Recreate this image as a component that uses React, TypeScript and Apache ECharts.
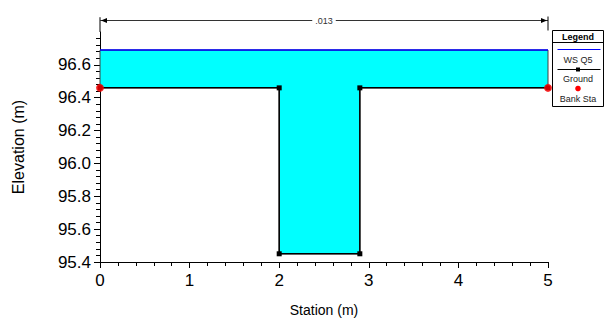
import React, { useEffect, useRef } from "react";
import * as echarts from "echarts";

const stations = [0, 2, 2, 2.9, 2.9, 5];
const groundElev = [96.46, 96.46, 95.45, 95.45, 96.46, 96.46];
const wsElev = 96.69;
const bankStations = [0, 5];
const bankElev = [96.46, 96.46];
const yTicks = [95.4, 95.6, 95.8, 96.0, 96.2, 96.4, 96.6];
const xTicks = [0, 1, 2, 3, 4, 5];
const nLabel = ".013";
const legendItems = ["WS Q5", "Ground", "Bank Sta"];

const FONT = "Liberation Sans, Arial, sans-serif";

export default function App() {
  const ref = useRef<HTMLDivElement>(null);
  useEffect(() => {
    if (!ref.current) return;
    const chart = echarts.init(ref.current, undefined, { renderer: "svg" });
    const groundData = stations.map((s, i) => [s, groundElev[i]]);
    const wsData = [
      [stations[0], wsElev],
      [stations[stations.length - 1], wsElev],
    ];
    chart.setOption({
      animation: false,
      backgroundColor: "#ffffff",
      textStyle: { fontFamily: FONT },
      grid: { left: 100, right: 56, top: 32, bottom: 64 },
      xAxis: {
        type: "value",
        min: 0,
        max: 5,
        interval: 1,
        name: "Station (m)",
        nameLocation: "middle",
        nameGap: 41,
        nameTextStyle: { fontSize: 14, color: "#000", fontFamily: FONT },
        axisLine: { lineStyle: { color: "#000", width: 1 } },
        axisTick: { length: 6, lineStyle: { color: "#000" }, customValues: xTicks },
        minorTick: { show: true, splitNumber: 5, length: 4, lineStyle: { color: "#000" } },
        axisLabel: { fontSize: 17, color: "#000", margin: 10, fontFamily: FONT, customValues: xTicks },
        splitLine: { show: false },
      },
      yAxis: {
        type: "value",
        min: 95.4,
        max: 96.8,
        interval: 0.2,
        name: "Elevation (m)",
        nameLocation: "middle",
        nameGap: 74,
        nameTextStyle: { fontSize: 16, color: "#000", fontFamily: FONT },
        axisLine: { show: true, lineStyle: { color: "#000", width: 1 } },
        axisTick: { show: true, length: 6, lineStyle: { color: "#000" }, customValues: yTicks },
        minorTick: { show: true, splitNumber: 5, length: 4, lineStyle: { color: "#000" } },
        axisLabel: {
          fontSize: 17,
          color: "#000",
          margin: 9,
          fontFamily: FONT,
          customValues: yTicks,
          formatter: (v: number) => v.toFixed(1),
        },
        splitLine: { show: false },
      },
      series: [
        {
          type: "custom",
          z: 1,
          data: [0],
          renderItem: (_params: any, api: any) => {
            const pts: number[][] = [];
            pts.push(api.coord([stations[0], wsElev]));
            pts.push(api.coord([stations[stations.length - 1], wsElev]));
            for (let i = stations.length - 1; i >= 0; i--) {
              pts.push(api.coord([stations[i], groundElev[i]]));
            }
            return {
              type: "polygon",
              shape: { points: pts },
              style: { fill: "#00ffff", stroke: "#404040", lineWidth: 1 },
            };
          },
        },
        {
          type: "line",
          name: "WS Q5",
          z: 3,
          data: wsData,
          symbol: "none",
          lineStyle: { color: "#0000ff", width: 1.5 },
        },
        {
          type: "line",
          name: "Ground",
          z: 4,
          data: groundData,
          symbol: "rect",
          symbolSize: 5,
          itemStyle: { color: "#000" },
          lineStyle: { color: "#000", width: 1.5 },
        },
        {
          type: "scatter",
          name: "Bank Sta",
          z: 5,
          data: bankStations.map((s, i) => [s, bankElev[i]]),
          symbol: "circle",
          symbolSize: 8,
          itemStyle: { color: "#ff0000" },
        },
      ],
    });

    const p0 = chart.convertToPixel({ gridIndex: 0 }, [stations[0], 96.87]) as number[];
    const p1 = chart.convertToPixel({ gridIndex: 0 }, [stations[stations.length - 1], 96.87]) as number[];
    const axTop = chart.convertToPixel({ gridIndex: 0 }, [0, 96.89]) as number[];
    const axEnd = chart.convertToPixel({ gridIndex: 0 }, [0, 96.8]) as number[];
    const ay = Math.round(p0[1]) + 0.5;
    const lx = 552.5, ly = 30.5, lw = 51, lh = 76;
    const cx = lx + lw / 2;
    chart.setOption({
      graphic: [
        {
          type: "line",
          shape: { x1: axEnd[0], y1: axEnd[1], x2: axTop[0], y2: axTop[1] },
          style: { stroke: "#000", lineWidth: 1 },
        },
        {
          type: "line",
          shape: { x1: p0[0], y1: ay, x2: p1[0], y2: ay },
          style: { stroke: "#333", lineWidth: 1 },
        },
        {
          type: "polygon",
          shape: { points: [[p0[0] + 1, ay], [p0[0] + 7, ay - 2.5], [p0[0] + 7, ay + 2.5]] },
          style: { fill: "#000" },
        },
        {
          type: "polygon",
          shape: { points: [[p1[0] - 1, ay], [p1[0] - 7, ay - 2.5], [p1[0] - 7, ay + 2.5]] },
          style: { fill: "#000" },
        },
        {
          type: "line",
          shape: { x1: p1[0], y1: ay - 4, x2: p1[0], y2: ay + 10 },
          style: { stroke: "#000", lineWidth: 1 },
        },
        {
          type: "text",
          x: (p0[0] + p1[0]) / 2,
          y: ay,
          style: {
            text: nLabel,
            fontSize: 9,
            fontFamily: FONT,
            fill: "#333",
            align: "center",
            verticalAlign: "middle",
            backgroundColor: "#fff",
            padding: [0, 3],
          },
        },
        {
          type: "rect",
          shape: { x: lx, y: ly, width: lw, height: lh },
          style: { fill: "#fff", stroke: "#000", lineWidth: 1 },
          z: 10,
        },
        {
          type: "text",
          x: cx,
          y: ly + 6.5,
          z: 11,
          style: { text: "Legend", fontSize: 9, fontWeight: "bold", fontFamily: FONT, fill: "#000", align: "center", verticalAlign: "middle" },
        },
        {
          type: "line",
          z: 11,
          shape: { x1: lx, y1: ly + 12, x2: lx + lw, y2: ly + 12 },
          style: { stroke: "#000", lineWidth: 1 },
        },
        {
          type: "line",
          z: 11,
          shape: { x1: lx + 5, y1: ly + 19, x2: lx + lw - 3, y2: ly + 19 },
          style: { stroke: "#0000ff", lineWidth: 1 },
        },
        {
          type: "text",
          x: cx,
          y: ly + 29,
          z: 11,
          style: { text: legendItems[0], fontSize: 9, fontFamily: FONT, fill: "#222", align: "center", verticalAlign: "middle" },
        },
        {
          type: "line",
          z: 11,
          shape: { x1: lx + 5, y1: ly + 39, x2: lx + lw - 3, y2: ly + 39 },
          style: { stroke: "#000", lineWidth: 1 },
        },
        {
          type: "rect",
          z: 12,
          shape: { x: cx - 2, y: ly + 37, width: 4, height: 4 },
          style: { fill: "#000" },
        },
        {
          type: "text",
          x: cx,
          y: ly + 48.5,
          z: 11,
          style: { text: legendItems[1], fontSize: 9, fontFamily: FONT, fill: "#222", align: "center", verticalAlign: "middle" },
        },
        {
          type: "circle",
          z: 11,
          shape: { cx: cx, cy: ly + 58, r: 2.8 },
          style: { fill: "#ff0000" },
        },
        {
          type: "text",
          x: cx,
          y: ly + 68.5,
          z: 11,
          style: { text: legendItems[2], fontSize: 9, fontFamily: FONT, fill: "#222", align: "center", verticalAlign: "middle" },
        },
      ],
    });
    return () => chart.dispose();
  }, []);
  return (
    <div
      ref={ref}
      style={{ position: "fixed", left: 0, top: 0, width: 604, height: 326, background: "#fff" }}
    />
  );
}
